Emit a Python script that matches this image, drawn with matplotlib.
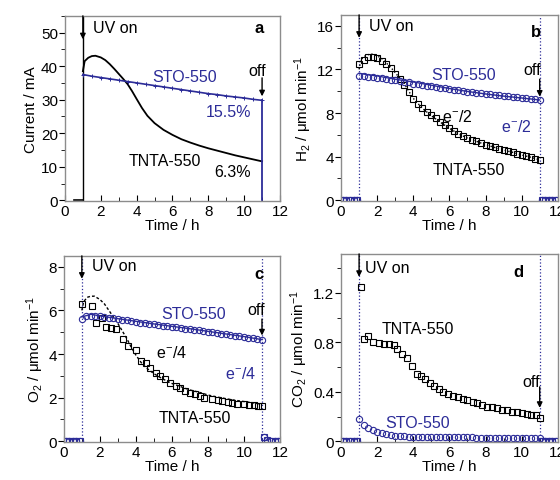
import matplotlib
matplotlib.use('Agg')
import matplotlib.pyplot as plt
from matplotlib.ticker import MultipleLocator, FuncFormatter

plt.rcParams['font.family'] = ['Liberation Sans', 'DejaVu Sans']
plt.rcParams['mathtext.fontset'] = 'custom'
plt.rcParams['mathtext.rm'] = 'Liberation Sans'
plt.rcParams['mathtext.it'] = 'Liberation Sans:italic'
plt.rcParams['font.size'] = 11

navy = '#2c2c98'
grey = '#8c8c8c'

# photocurrent (mA) and the electron-equivalent traces (h)
t_cur = [1.0, 1.1, 1.3, 1.5, 1.7, 2.0, 2.25, 2.5, 2.75, 3.0, 3.25, 3.5, 3.75, 4.0,
         4.3, 4.6, 5.0, 5.5, 6.0, 6.5, 7.0, 7.5, 8.0, 8.5, 9.0, 9.5, 10.0, 10.5, 11.0]
cur_tnta = [38.5, 41.5, 42.5, 43.0, 43.1, 42.6, 41.8, 40.6, 39.2, 37.7, 36.2, 34.6,
            32.5, 30.2, 27.5, 25.2, 23.0, 21.0, 19.5, 18.2, 17.2, 16.3, 15.5, 14.8,
            14.1, 13.4, 12.8, 12.2, 11.6]
e2_tnta = [12.0, 12.9, 13.2, 13.35, 13.4, 13.25, 13.0, 12.6, 12.2, 11.7, 11.2, 10.7,
           10.0, 9.35, 8.8, 8.3, 7.75, 7.15, 6.6, 6.1, 5.7, 5.4, 5.1, 4.85, 4.6, 4.4,
           4.15, 3.95, 3.7]
e4_tnta = [6.0, 6.4, 6.6, 6.65, 6.65, 6.5, 6.3, 6.0, 5.7, 5.4, 5.05, 4.7, 4.3, 3.95,
           3.6, 3.35, 3.1, 2.85, 2.65, 2.5, 2.35, 2.25, 2.12, 2.03, 1.95, 1.88, 1.82,
           1.76, 1.7]

t_sto_cur = [1.0, 1.5, 2.0, 2.5, 3.0, 3.5, 4.0, 4.5, 5.0, 5.5, 6.0, 6.5, 7.0, 7.5,
             8.0, 8.5, 9.0, 9.5, 10.0, 10.5, 11.0]
cur_sto = [37.5, 37.0, 36.6, 36.2, 35.8, 35.4, 35.0, 34.6, 34.2, 33.8, 33.4, 33.0,
           32.6, 32.2, 31.8, 31.5, 31.1, 30.8, 30.5, 30.1, 29.8]

t_sto_e = [1.0, 1.5, 2, 3, 4, 5, 6, 7, 8, 9, 10, 11]
e2_sto = [11.65, 11.5, 11.4, 11.1, 10.85, 10.55, 10.25, 9.98, 9.75, 9.55, 9.38, 9.2]
e4_sto = [5.7, 5.82, 5.75, 5.62, 5.5, 5.38, 5.27, 5.16, 5.04, 4.92, 4.8, 4.66]

# gas evolution rates (umol/min)
t_q = [1.0, 1.25, 1.5, 1.75, 2.0, 2.25, 2.5, 2.75, 3.0, 3.25, 3.5, 3.75, 4.0, 4.25,
       4.5, 4.75, 5.0, 5.25, 5.5, 5.75, 6.0, 6.25, 6.5, 6.75, 7.0, 7.25, 7.5, 7.75,
       8.0, 8.25, 8.5, 8.75, 9.0, 9.25, 9.5, 9.75, 10.0, 10.25, 10.5, 10.75, 11.0]
h2_tnta = [12.5, 12.9, 13.1, 13.15, 13.0, 12.8, 12.5, 12.1, 11.6, 11.1, 10.6, 9.95,
           9.3, 8.85, 8.45, 8.1, 7.8, 7.5, 7.2, 6.9, 6.6, 6.35, 6.1, 5.9, 5.7, 5.55,
           5.4, 5.25, 5.1, 4.98, 4.85, 4.72, 4.6, 4.5, 4.4, 4.28, 4.15, 4.05, 3.95,
           3.83, 3.7]
h2_sto = [11.35, 11.35, 11.3, 11.3, 11.25, 11.2, 11.15, 11.05, 11.0, 10.95, 10.85,
          10.8, 10.7, 10.65, 10.55, 10.5, 10.45, 10.38, 10.3, 10.25, 10.2, 10.13,
          10.08, 10.02, 9.97, 9.92, 9.86, 9.8, 9.76, 9.71, 9.66, 9.62, 9.58, 9.53,
          9.49, 9.45, 9.41, 9.37, 9.33, 9.28, 9.24]
o2_sto = [5.62, 5.72, 5.76, 5.75, 5.72, 5.69, 5.66, 5.63, 5.6, 5.57, 5.54, 5.5,
          5.47, 5.44, 5.41, 5.38, 5.36, 5.33, 5.3, 5.27, 5.25, 5.22, 5.19, 5.16,
          5.14, 5.11, 5.08, 5.05, 5.02, 4.99, 4.96, 4.93, 4.9, 4.87, 4.84, 4.81,
          4.78, 4.75, 4.72, 4.69, 4.66]
co2_sto = [0.18, 0.13, 0.105, 0.088, 0.075, 0.065, 0.057, 0.05, 0.046, 0.043, 0.04,
           0.038, 0.037, 0.036, 0.035, 0.034, 0.034, 0.033, 0.033, 0.032, 0.032,
           0.032, 0.031, 0.031, 0.031, 0.031, 0.030, 0.030, 0.030, 0.030, 0.030,
           0.030, 0.030, 0.030, 0.030, 0.030, 0.030, 0.030, 0.030, 0.030, 0.030]

t_o2_tnta = [1.0, 1.55, 1.8, 2.1, 2.35, 2.6, 2.9, 3.3, 3.55, 4.0, 4.27, 4.55, 4.8,
             5.1, 5.35, 5.6, 5.9, 6.2, 6.45, 6.7, 7.0, 7.3, 7.55, 7.8, 8.2, 8.55,
             8.8, 9.1, 9.35, 9.6, 10.0, 10.3, 10.55, 10.8, 11.0]
o2_tnta = [6.28, 6.2, 5.4, 5.67, 5.25, 5.2, 5.13, 4.67, 4.37, 4.2, 3.68, 3.57, 3.37,
           3.14, 3.0, 2.84, 2.68, 2.53, 2.42, 2.3, 2.22, 2.15, 2.07, 2.0, 1.95, 1.89,
           1.84, 1.79, 1.76, 1.72, 1.69, 1.66, 1.64, 1.61, 1.6]

t_co2_tnta = [1.09, 1.25, 1.49, 1.76, 2.1, 2.4, 2.66, 2.93, 3.1, 3.4, 3.66, 3.93, 4.2,
              4.44, 4.65, 4.93, 5.16, 5.4, 5.65, 5.9, 6.2, 6.47, 6.74, 7.0, 7.28,
              7.55, 7.8, 8.1, 8.37, 8.64, 8.9, 9.2, 9.46, 9.73, 10.0, 10.27, 10.54,
              10.8, 11.0]
co2_tnta = [1.25, 0.83, 0.85, 0.80, 0.795, 0.79, 0.79, 0.78, 0.75, 0.71, 0.67, 0.61,
            0.545, 0.53, 0.50, 0.47, 0.445, 0.42, 0.40, 0.38, 0.37, 0.355, 0.34,
            0.33, 0.32, 0.31, 0.29, 0.28, 0.275, 0.27, 0.255, 0.25, 0.24, 0.235,
            0.225, 0.22, 0.215, 0.21, 0.19]

# dark periods before / after illumination
t_pre = [0.1, 0.3, 0.5, 0.7, 0.9]
t_post = [11.1, 11.3, 11.5, 11.7, 11.9]
dark_zero = [0, 0, 0, 0, 0]
o2_post = [0.18, 0.04, 0, 0, 0]


def style(ax, ymax, major, minor, ylabel):
    ax.set_xlim(0, 12)
    ax.set_ylim(-0.004 * ymax, ymax)
    ax.xaxis.set_major_locator(MultipleLocator(2))
    ax.xaxis.set_minor_locator(MultipleLocator(1))
    ax.yaxis.set_major_locator(MultipleLocator(major))
    ax.yaxis.set_minor_locator(MultipleLocator(minor))
    ax.yaxis.set_major_formatter(FuncFormatter(lambda v, p: '%g' % round(v, 3)))
    for s in ax.spines.values():
        s.set_color(grey)
        s.set_linewidth(1.0)
    ax.tick_params(axis='y', which='both', direction='out', colors='k',
                   labelsize=11, pad=1)
    ax.tick_params(axis='y', which='major', length=4, color='k')
    ax.tick_params(axis='y', which='minor', length=3, color='k')
    ax.tick_params(axis='x', which='both', direction='in', labelsize=11, pad=2)
    ax.tick_params(axis='x', which='major', length=4, color='k')
    ax.tick_params(axis='x', which='minor', length=3, color='k')
    ax.set_xlabel('Time / h', fontsize=11, labelpad=0)
    ax.set_ylabel(ylabel, fontsize=11, labelpad=2)


def arrow(ax, x, y0, y1):
    ax.annotate('', xy=(x, y1), xytext=(x, y0),
                arrowprops=dict(arrowstyle='-|>', color='k', lw=1.0,
                                mutation_scale=8, shrinkA=0, shrinkB=0))


fig = plt.figure(figsize=(5.6, 4.81), dpi=100)
ax_a = fig.add_axes([0.116, 0.580, 0.384, 0.385])
ax_b = fig.add_axes([0.609, 0.580, 0.387, 0.387])
ax_c = fig.add_axes([0.114, 0.079, 0.386, 0.387])
ax_d = fig.add_axes([0.609, 0.079, 0.387, 0.391])

sq = dict(marker='s', ms=5, mfc='none', mew=0.8, ls='none')
ci = dict(marker='o', ms=4.5, mfc='none', mew=0.8, ls='none')

# a: photocurrent
ax = ax_a
style(ax, 55, 10, 5, 'Current / mA')
ax.plot([0.5, 1.0], [0, 0], color='k', lw=1.2)
ax.plot([1, 1], [0, 55], color='k', lw=1.0)
ax.plot(t_cur, cur_tnta, color='k', lw=1.3)
ax.plot(t_sto_cur, cur_sto, color=navy, lw=1.2, marker='+', ms=3, mew=0.7)
ax.plot([11, 11], [0, cur_sto[-1]], color=navy, lw=1.3)
arrow(ax, 1, 55, 48)
arrow(ax, 11, 36.5, 31)
ax.text(1.55, 51.5, 'UV on', fontsize=11.5, va='center')
ax.text(11.1, 51.5, 'a', fontsize=12, fontweight='bold', ha='right', va='center')
ax.text(6.7, 37.0, 'STO-550', color=navy, fontsize=11.5, ha='center', va='center')
ax.text(10.7, 38.8, 'off', fontsize=11.5, ha='center', va='center')
ax.text(10.4, 26.5, '15.5%', color=navy, fontsize=11.5, ha='right', va='center')
ax.text(5.55, 12.0, 'TNTA-550', fontsize=11.5, ha='center', va='center')
ax.text(10.4, 8.6, '6.3%', fontsize=11.5, ha='right', va='center')

# b: hydrogen
ax = ax_b
style(ax, 17, 4, 2, 'H$_2$ / μmol min$^{-1}$')
ax.axvline(1, color=navy, lw=0.9, ls=':')
ax.axvline(11, color=navy, lw=0.9, ls=':')
ax.plot(t_pre, dark_zero, color=navy, **sq)
ax.plot(t_pre, dark_zero, color=navy, **ci)
ax.plot(t_post, dark_zero, color=navy, **sq)
ax.plot(t_post, dark_zero, color=navy, **ci)
ax.plot(t_q, h2_tnta, color='k', **sq)
ax.plot(t_cur, e2_tnta, color='k', lw=1.0, ls=':')
ax.plot(t_q, h2_sto, color=navy, **ci)
ax.plot(t_sto_e, e2_sto, color=navy, lw=1.0)
arrow(ax, 1, 17, 14.9)
arrow(ax, 11, 11.1, 9.5)
ax.text(1.55, 16.0, 'UV on', fontsize=11.5, va='center')
ax.text(11.1, 15.5, 'b', fontsize=12, fontweight='bold', ha='right', va='center')
ax.text(6.8, 11.5, 'STO-550', color=navy, fontsize=11.5, ha='center', va='center')
ax.text(10.6, 12.0, 'off', fontsize=11.5, ha='center', va='center')
ax.text(6.45, 7.7, 'e$^{-}$/2', fontsize=11.5, ha='center', va='center')
ax.text(9.7, 6.8, 'e$^{-}$/2', color=navy, fontsize=11.5, ha='center', va='center')
ax.text(7.1, 2.85, 'TNTA-550', fontsize=11.5, ha='center', va='center')

# c: oxygen
ax = ax_c
style(ax, 8.5, 2, 1, 'O$_2$ / μmol min$^{-1}$')
ax.axvline(1, color=navy, lw=0.9, ls=':')
ax.axvline(11, color=navy, lw=0.9, ls=':')
ax.plot(t_pre, dark_zero, color=navy, **sq)
ax.plot(t_pre, dark_zero, color=navy, **ci)
ax.plot(t_post, o2_post, color=navy, **sq)
ax.plot(t_post, o2_post, color=navy, **ci)
ax.plot(t_o2_tnta, o2_tnta, color='k', **sq)
ax.plot(t_cur, e4_tnta, color='k', lw=1.0, ls=(0, (2, 1.5)))
ax.plot(t_q, o2_sto, color=navy, **ci)
ax.plot(t_sto_e, e4_sto, color=navy, lw=1.0)
arrow(ax, 1, 8.5, 7.45)
arrow(ax, 11, 5.6, 4.85)
ax.text(1.55, 8.05, 'UV on', fontsize=11.5, va='center')
ax.text(11.1, 7.7, 'c', fontsize=12, fontweight='bold', ha='right', va='center')
ax.text(7.2, 5.87, 'STO-550', color=navy, fontsize=11.5, ha='center', va='center')
ax.text(10.7, 6.05, 'off', fontsize=11.5, ha='center', va='center')
ax.text(6.0, 4.1, 'e$^{-}$/4', fontsize=11.5, ha='center', va='center')
ax.text(9.8, 3.14, 'e$^{-}$/4', color=navy, fontsize=11.5, ha='center', va='center')
ax.text(7.25, 1.07, 'TNTA-550', fontsize=11.5, ha='center', va='center')

# d: carbon dioxide
ax = ax_d
style(ax, 1.516, 0.4, 0.2, 'CO$_2$ / μmol min$^{-1}$')
ax.axvline(1, color=navy, lw=0.9, ls=':')
ax.axvline(11, color=navy, lw=0.9, ls=':')
ax.plot(t_pre, dark_zero, color=navy, **sq)
ax.plot(t_pre, dark_zero, color=navy, **ci)
ax.plot(t_post, dark_zero, color=navy, **sq)
ax.plot(t_post, dark_zero, color=navy, **ci)
ax.plot(t_co2_tnta, co2_tnta, color='k', **sq)
ax.plot(t_q, co2_sto, color=navy, **ci)
arrow(ax, 1, 1.516, 1.33)
arrow(ax, 11, 0.44, 0.27)
ax.text(1.35, 1.41, 'UV on', fontsize=11.5, va='center')
ax.text(10.1, 1.37, 'd', fontsize=12, fontweight='bold', ha='right', va='center')
ax.text(4.25, 0.91, 'TNTA-550', fontsize=11.5, ha='center', va='center')
ax.text(4.25, 0.154, 'STO-550', color=navy, fontsize=11.5, ha='center', va='center')
ax.text(10.55, 0.48, 'off', fontsize=11.5, ha='center', va='center')

fig.savefig('out.png', dpi=100)
